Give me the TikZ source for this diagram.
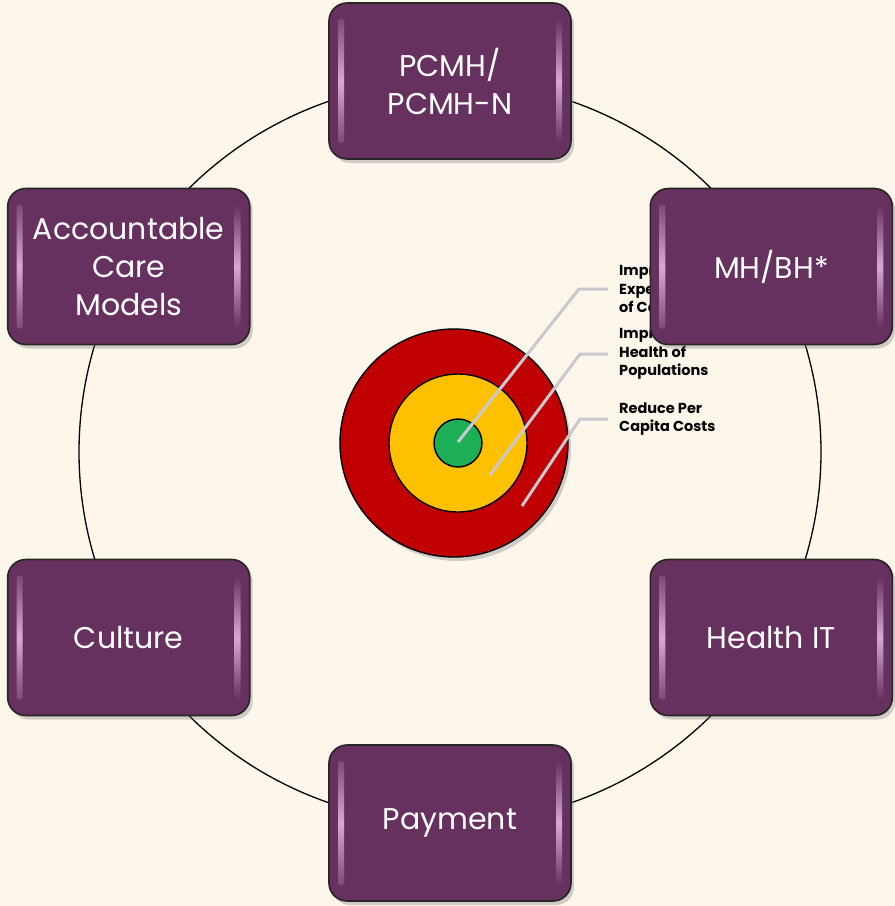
\documentclass[tikz,border=0pt]{standalone}
\usepackage{fontspec}
\setmainfont{Poppins}
\usetikzlibrary{shadows,calc}
\definecolor{paper}{HTML}{FDF6EA}
\definecolor{boxpurple}{HTML}{66305F}
\definecolor{gloss}{HTML}{D8A8D4}
\definecolor{ringred}{HTML}{C00000}
\definecolor{ringyellow}{HTML}{FFC000}
\definecolor{ringgreen}{HTML}{1DAF55}
\definecolor{leader}{HTML}{C9C8CE}
\tikzstyle{purple box}=[
    draw = black!85,
    line width = 1.6pt,
    fill = boxpurple,
    rounded corners = 18pt,
    minimum width = 242pt,
    minimum height = 156pt,
    text = white,
    align = center,
    font = \fontsize{30}{38}\selectfont,
    drop shadow = {shadow xshift=3pt, shadow yshift=-4pt, opacity=.35},
    path picture = {
        \shade[top color=boxpurple, bottom color=boxpurple, middle color=gloss, rounded corners=2pt] ([shift={(9pt,-16pt)}]path picture bounding box.north west) rectangle ([shift={(15pt,16pt)}]path picture bounding box.south west);
        \shade[top color=boxpurple, bottom color=boxpurple, middle color=gloss, rounded corners=2pt] ([shift={(-15pt,-16pt)}]path picture bounding box.north east) rectangle ([shift={(-9pt,16pt)}]path picture bounding box.south east);
    }
]
\tikzstyle{goal}=[
    anchor = west,
    inner sep = 5pt,
    align = left,
    font = \bfseries\fontsize{14.5}{18.5}\selectfont
]

\begin{document}
\begin{tikzpicture}[x=1pt, y=1pt, ring/.style = {draw, circle, line width=1.4pt}]
        \useasboundingbox (0,0) rectangle (895,-906);
        \fill[paper] (0,0) rectangle (895,-906);

        \coordinate (c) at (450,-452);
        \draw[line width=1.3pt] (c) circle (371);

        % target
        \node[ring, fill=ringred, minimum size=228pt, drop shadow={shadow xshift=3pt, shadow yshift=-4pt, opacity=.35}] (red) at (454,-443) {};
        \node[ring, fill=ringyellow, minimum size=138pt] (yellow) at (458,-443) {};
        \node[ring, fill=ringgreen, minimum size=48pt] (green) at (458,-443) {};

        \node[goal] (care) at (614,-289) {Improve\\Experience\\of Care};
        \node[goal] (health) at (614,-354) {Improve\\Health of\\Populations};
        \node[goal] (costs) at (614,-419) {Reduce Per\\Capita Costs};

        \coordinate (p1) at (458,-442);
        \coordinate (p2) at (490,-475);
        \coordinate (p3) at (522,-506);
        \draw[leader, line width=3pt] (p1) -- (579,-289) -- ([xshift=-6pt]care.west);
        \draw[leader, line width=3pt] (p2) -- (580,-354) -- ([xshift=-6pt]health.west);
        \draw[leader, line width=3pt] (p3) -- (580,-419) -- ([xshift=-6pt]costs.west);

        % boxes around the circle
        \node[purple box] (pcmh) at ($(c)+(90:371)$) {PCMH/\\PCMH-N};
        \node[purple box] (mhbh) at ($(c)+(30:371)$) {MH/BH*};
        \node[purple box] (hit) at ($(c)+(-30:371)$) {Health IT};
        \node[purple box] (pay) at ($(c)+(-90:371)$) {Payment};
        \node[purple box] (cult) at ($(c)+(-150:371)$) {Culture};
        \node[purple box] (aco) at ($(c)+(150:371)$) {Accountable\\Care\\Models};

    \end{tikzpicture}
\end{document}
